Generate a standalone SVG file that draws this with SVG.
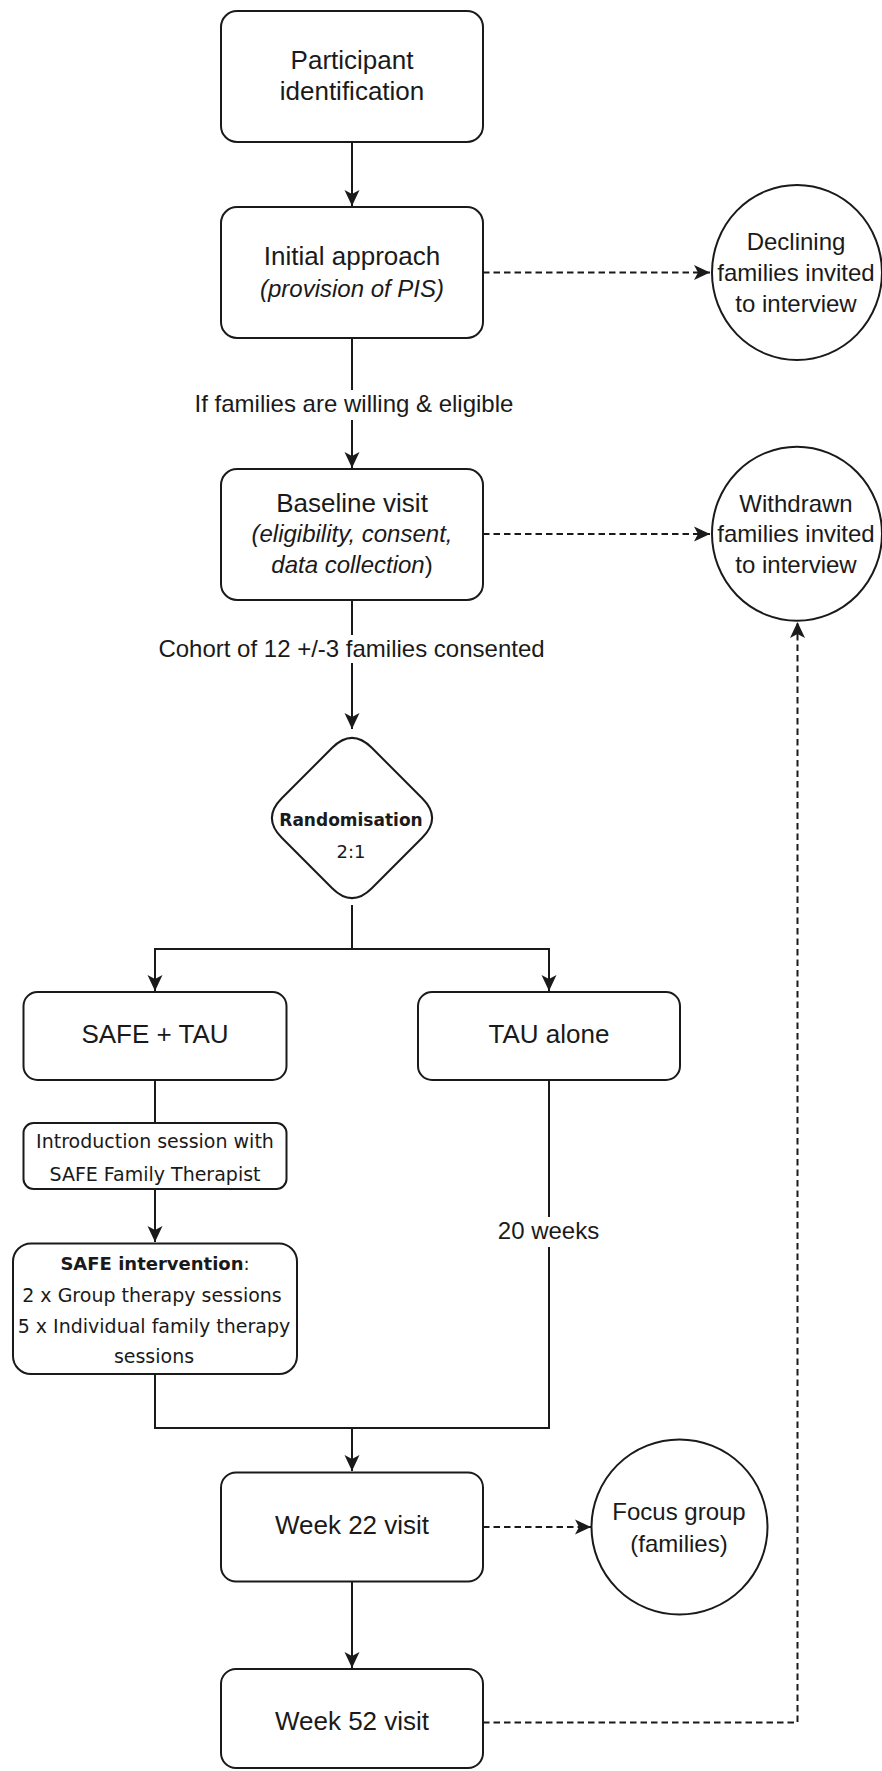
<svg xmlns="http://www.w3.org/2000/svg" width="882" height="1771" viewBox="0 0 882 1771">
<style>
.box{fill:#fff;stroke:#1a1a1a;stroke-width:2}
.ln{fill:none;stroke:#1a1a1a;stroke-width:2}
.dash{fill:none;stroke:#1a1a1a;stroke-width:2;stroke-dasharray:6.5 4}
.t{font-family:"Liberation Sans",Arial,sans-serif;fill:#1a1a1a;text-anchor:middle}
.big{font-size:26px}
.mid{font-size:24px}
.it{font-size:24px;font-style:italic}
.dv{font-family:"DejaVu Sans",Verdana,sans-serif;fill:#1a1a1a;text-anchor:middle;font-size:19px}
.bg{fill:#fff;stroke:none}
</style>
<defs>
<marker id="arr" markerUnits="userSpaceOnUse" markerWidth="16" markerHeight="18" viewBox="0 0 16 18" refX="16" refY="9" orient="auto">
<path d="M0,1.5 L16,9 L0,16.5 L4,9 Z" fill="#1a1a1a"/>
</marker>
</defs>
<rect width="882" height="1771" fill="#fff"/>

<g id="connectors">
<path class="ln" d="M352,142 V206" marker-end="url(#arr)"/>
<path class="ln" d="M352,338 V468" marker-end="url(#arr)"/>
<path class="ln" d="M352,600 V729" marker-end="url(#arr)"/>
<path class="ln" d="M352,905 V949 H155 V991" marker-end="url(#arr)"/>
<path class="ln" d="M352,949 H549 V991" marker-end="url(#arr)"/>
<path class="ln" d="M155,1080 V1123"/>
<path class="ln" d="M155,1189 V1242" marker-end="url(#arr)"/>
<path class="ln" d="M155,1374 V1428 H352 V1471" marker-end="url(#arr)"/>
<path class="ln" d="M549,1080 V1428 H352"/>
<path class="ln" d="M352,1582 V1668" marker-end="url(#arr)"/>
<path class="dash" d="M483,272.5 H710" marker-end="url(#arr)"/>
<path class="dash" d="M483,534 H710" marker-end="url(#arr)"/>
<path class="dash" d="M483,1527 H591" marker-end="url(#arr)"/>
<path class="dash" d="M483,1722.5 H797.5 V622" marker-end="url(#arr)"/>
<rect class="bg" x="193" y="390" width="322" height="30"/>
<text class="t mid" x="354" y="412.3">If families are willing &amp; eligible</text>
<rect class="bg" x="157" y="635" width="390" height="28"/>
<text class="t mid" x="351.5" y="656.7">Cohort of 12 +/-3 families consented</text>
<rect class="bg" x="495" y="1217" width="107" height="30"/>
<text class="t mid" x="548.5" y="1239.3">20 weeks</text>
</g>

<g id="participant-identification">
<rect class="box" x="221" y="11" width="262" height="131" rx="16"/>
<text class="t big" x="352" y="69">Participant</text>
<text class="t big" x="352" y="100">identification</text>
</g>

<g id="initial-approach">
<rect class="box" x="221" y="207" width="262" height="131" rx="16"/>
<text class="t big" x="352" y="265">Initial approach</text>
<text class="t it" x="352" y="297">(provision of PIS)</text>
</g>

<g id="declining">
<ellipse class="box" cx="797" cy="272.5" rx="85" ry="87.5"/>
<text class="t mid" x="796" y="250">Declining</text>
<text class="t mid" x="796" y="280.5">families invited</text>
<text class="t mid" x="796" y="311.5">to interview</text>
</g>

<g id="baseline-visit">
<rect class="box" x="221" y="469" width="262" height="131" rx="16"/>
<text class="t big" x="352" y="511.7">Baseline visit</text>
<text class="t it" x="352" y="541.7">(eligibility, consent,</text>
<text class="t mid" x="352" y="573.3"><tspan font-style="italic">data collection</tspan>)</text>
</g>

<g id="withdrawn">
<ellipse class="box" cx="797" cy="533.7" rx="85" ry="87"/>
<text class="t mid" x="796" y="511.7">Withdrawn</text>
<text class="t mid" x="796" y="542">families invited</text>
<text class="t mid" x="796" y="573">to interview</text>
</g>

<g id="randomisation">
<path class="box" d="M332.2,747.8 Q352,728 371.8,747.8 L422.2,798.2 Q442,818 422.2,837.8 L371.8,888.2 Q352,908 332.2,888.2 L281.8,837.8 Q262,818 281.8,798.2 Z"/>
<text class="dv" x="351" y="825.7" font-weight="bold" style="font-size:17px">Randomisation</text>
<text class="dv" x="351" y="858.3" style="font-size:18px">2:1</text>
</g>

<g id="safe-tau">
<rect class="box" x="23.5" y="992" width="263" height="88" rx="14"/>
<text class="t big" x="155" y="1043.3">SAFE + TAU</text>
</g>

<g id="tau-alone">
<rect class="box" x="418" y="992" width="262" height="88" rx="14"/>
<text class="t big" x="549" y="1043.3">TAU alone</text>
</g>

<g id="introduction-session">
<rect class="box" x="23.5" y="1123" width="263" height="66" rx="10"/>
<text class="dv" x="155" y="1148.3">Introduction session with</text>
<text class="dv" x="155" y="1180.7">SAFE Family Therapist</text>
</g>

<g id="safe-intervention">
<rect class="box" x="13" y="1243.5" width="284" height="130.5" rx="18"/>
<text class="dv" x="155" y="1270" style="font-size:18px"><tspan font-weight="bold">SAFE intervention</tspan>:</text>
<text class="dv" x="152" y="1301.7">2 x Group therapy sessions</text>
<text class="dv" x="154" y="1333.3">5 x Individual family therapy</text>
<text class="dv" x="154" y="1363.3">sessions</text>
</g>

<g id="week-22">
<rect class="box" x="221" y="1472.5" width="262" height="109" rx="15"/>
<text class="t big" x="352" y="1534">Week 22 visit</text>
</g>

<g id="focus-group">
<ellipse class="box" cx="679.5" cy="1527" rx="88" ry="87.5"/>
<text class="t mid" x="679" y="1520">Focus group</text>
<text class="t mid" x="679" y="1551.7">(families)</text>
</g>

<g id="week-52">
<rect class="box" x="221" y="1669" width="262" height="99" rx="15"/>
<text class="t big" x="352" y="1730">Week 52 visit</text>
</g>
</svg>
